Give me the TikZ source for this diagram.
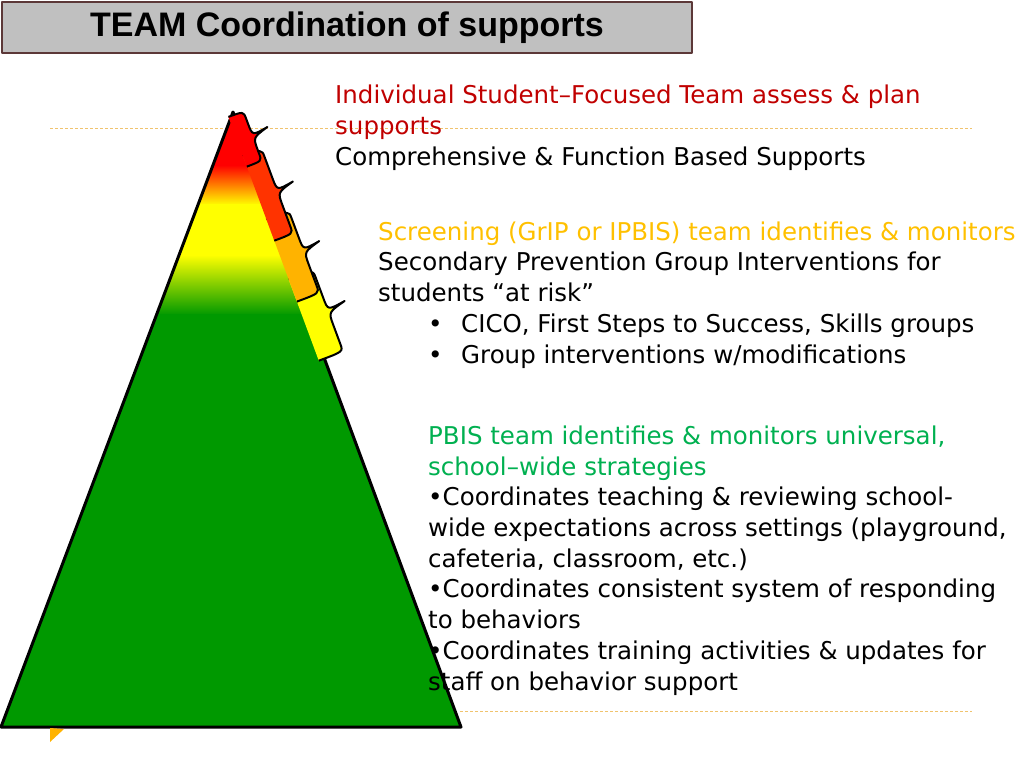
\documentclass[tikz,border=0pt]{standalone}
\usepackage{fontspec}
\setmainfont{DejaVu Sans}
\newfontfamily\titlefont{Liberation Sans}
\usepackage{xcolor}
\usetikzlibrary{calc}
\definecolor{tierRed}{RGB}{255, 0, 0}
\definecolor{tierOrangeRed}{RGB}{255, 51, 0}
\definecolor{tierOrange}{RGB}{255, 179, 0}
\definecolor{tierYellow}{RGB}{255, 255, 0}
\definecolor{tierGreen}{RGB}{0, 153, 0}
\definecolor{headRed}{RGB}{192, 0, 0}
\definecolor{headOrange}{RGB}{255, 192, 0}
\definecolor{headGreen}{RGB}{0, 176, 80}
\definecolor{titleGray}{RGB}{192, 192, 192}
\definecolor{titleBorder}{RGB}{92, 56, 56}
\definecolor{guideTan}{RGB}{240, 195, 110}

% one brace tab along the right edge: start, end, tip, outer width, tip reach, colour
\newcommand{\supporttab}[6]{%
  \fill[#6] (#1,-6) .. controls (#1,#4) .. (#1+8,#4) -- (#3-14,#4)
    .. controls (#3-1,#4) .. (#3-4,#5) .. controls (#3+1,#4) .. (#3+14,#4)
    -- (#2-8,#4) .. controls (#2,#4) .. (#2,-6) -- cycle;
  \draw[line width=2pt] (#1,-6) .. controls (#1,#4) .. (#1+8,#4) -- (#3-14,#4)
    .. controls (#3-1,#4) .. (#3-4,#5) .. controls (#3+1,#4) .. (#3+14,#4)
    -- (#2-8,#4) .. controls (#2,#4) .. (#2,-6);
}

\begin{document}
\begin{tikzpicture}[x=1pt, y=-1pt, line join=round,
    guide/.style={guideTan, line width=1pt, dash pattern=on 3pt off 2pt},
    blurb/.style={anchor=base west, inner sep=0pt, align=left,
      font=\fontsize{24.5}{30.7}\selectfont}]
  \useasboundingbox (0,0) rectangle (1024,768);

  % Title bar
  \node[draw=titleBorder, line width=2pt, fill=titleGray, anchor=north west,
    minimum width=690pt, minimum height=51pt,
    font=\titlefont\bfseries\fontsize{34}{40}\selectfont] (title) at (1,1)
    {TEAM Coordination of supports};

  % Dashed guide lines
  \draw[guide] (50,128) -- (972,128);
  \draw[guide] (460,711) -- (972,711);

  % The pyramid
  \coordinate (apex) at (233,112);
  \coordinate (baseL) at (1,727);
  \coordinate (baseR) at (461,727);
  \begin{scope}
    \clip (apex) -- (baseR) -- (baseL) -- cycle;
    \fill[tierRed] (0,100) rectangle (470,166);
    \shade[top color=tierRed, bottom color=tierYellow] (0,165) rectangle (470,205);
    \fill[tierYellow] (0,204) rectangle (470,256);
    \shade[top color=tierYellow, bottom color=tierGreen] (0,255) rectangle (470,315);
    \fill[tierGreen] (0,314) rectangle (470,730);
  \end{scope}
  \draw[line width=3pt] (apex) -- (baseR) -- (baseL) -- cycle;

  % Brace tabs on the right edge
  \begin{scope}[shift={(apex)}, x={(0.3476pt,-0.9376pt)}, y={(0.9376pt,0.3476pt)}]
    \supporttab{176}{263}{220}{20}{39}{tierYellow}
    \supporttab{112}{200}{155}{18}{36}{tierOrange}
    \supporttab{45}{135}{90}{14}{32}{tierOrangeRed}
    \supporttab{3}{56}{30}{10}{27}{tierRed}
  \end{scope}

  % small marker at the bottom
  \fill[tierOrange] (50,728) -- (64,729) -- (50,742) -- cycle;

  % Tier texts
  \node[blurb] (tier3) at (335,165)
    {\textcolor{headRed}{Individual Student–Focused Team assess \& plan}\\
     \textcolor{headRed}{supports}\\
     Comprehensive \& Function Based Supports};
  \node[blurb] (tier2) at (378,363)
    {\textcolor{headOrange}{Screening (GrIP or IPBIS) team identifies \& monitors}\\
     Secondary Prevention Group Interventions for\\
     students “at risk”\\
     \hspace*{50pt}\makebox[33pt][l]{•}CICO, First Steps to Success, Skills groups\\
     \hspace*{50pt}\makebox[33pt][l]{•}Group interventions w/modifications};
  \node[blurb] (tier1) at (428,690)
    {\textcolor{headGreen}{PBIS team identifies \& monitors universal,}\\
     \textcolor{headGreen}{school–wide strategies}\\
     •Coordinates teaching \& reviewing school-\\
     wide expectations across settings (playground,\\
     cafeteria, classroom, etc.)\\
     •Coordinates consistent system of responding\\
     to behaviors\\
     •Coordinates training activities \& updates for\\
     staff on behavior support};
\end{tikzpicture}
\end{document}
